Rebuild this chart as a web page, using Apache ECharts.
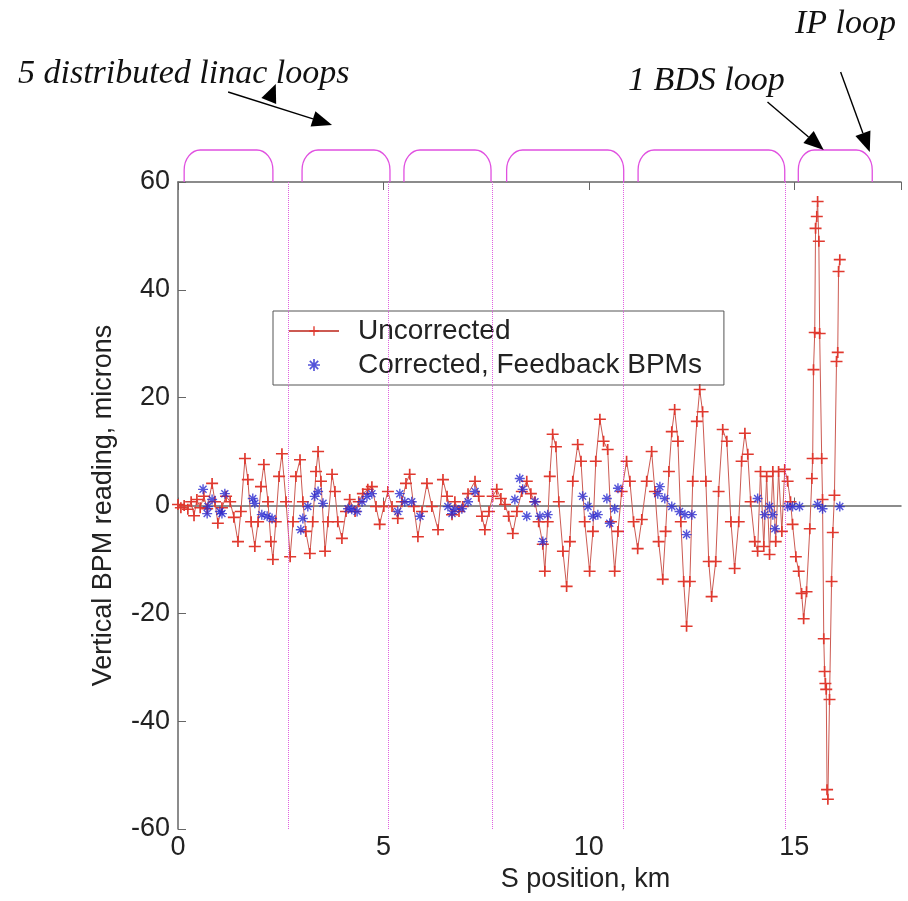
<!DOCTYPE html>
<html lang="en">
<head>
<meta charset="UTF-8">
<title>Vertical BPM reading</title>
<script src="https://cdn.jsdelivr.net/npm/echarts@6/dist/echarts.min.js"></script>
<style>html,body{margin:0;padding:0;background:#fff;}</style>
</head>
<body>
<div id="main" style="width:908px;height:901px;"></div>
<script>
// S position (km), vertical BPM reading (microns)
const uncorrected = [
  [0.00,0.2],[0.07,-0.4],[0.15,0],[0.24,-0.7],[0.32,0.7],[0.39,-1.9],[0.46,1.1],[0.54,-0.4],
  [0.63,1.7],[0.71,-0.6],[0.83,4.1],[0.90,0.7],[0.97,-3.3],[1.07,-0.4],[1.17,1.7],[1.27,0.7],
  [1.36,-2.2],[1.46,-6.7],[1.53,-1.1],[1.63,8.7],[1.70,4.8],[1.78,-3.0],[1.87,-7.6],[1.95,-3.0],
  [2.02,3.5],[2.09,7.6],[2.19,0.7],[2.26,-6.7],[2.31,-10.0],[2.38,-3.0],[2.46,5.4],[2.53,9.6],
  [2.63,0.7],[2.73,-9.5],[2.80,-3.0],[2.87,5.4],[2.97,8.5],[3.04,0.7],[3.11,-4.8],[3.21,-8.9],
  [3.28,-3.0],[3.36,6.3],[3.41,10.0],[3.48,4.5],[3.58,-8.5],[3.65,-3.0],[3.75,5.8],[3.82,2.6],
  [3.89,-3.0],[3.99,-6.1],[4.09,-1.1],[4.18,1.1],[4.31,-1.1],[4.40,0.7],[4.50,2.2],[4.62,3.0],
  [4.72,3.5],[4.82,-0.2],[4.91,-3.5],[5.01,-0.2],[5.11,2.6],[5.21,-0.2],[5.35,-2.4],[5.45,0.7],
  [5.55,4.1],[5.64,5.8],[5.74,-0.2],[5.84,-5.8],[5.94,-1.1],[6.06,4.1],[6.18,-0.2],[6.33,-4.5],
  [6.45,4.8],[6.55,1.7],[6.67,-1.7],[6.74,0.7],[6.84,-1.1],[6.93,-0.2],[7.06,2.2],[7.23,4.5],
  [7.32,1.7],[7.40,-2.0],[7.47,-4.5],[7.57,-1.1],[7.66,1.7],[7.76,3.0],[7.86,1.3],[7.96,0.2],
  [8.05,-2.0],[8.15,-5.2],[8.25,-1.1],[8.37,2.6],[8.49,4.5],[8.59,2.2],[8.69,0.7],[8.78,-3.0],
  [8.88,-7.2],[8.93,-12.2],[9.00,-3.0],[9.05,5.4],[9.12,13.2],[9.20,10.9],[9.27,0.7],[9.37,-8.5],
  [9.46,-15.0],[9.54,-6.7],[9.61,4.5],[9.73,11.3],[9.81,8.2],[9.90,-3.0],[10.02,-12.2],[10.10,-4.8],
  [10.17,8.2],[10.27,16.0],[10.36,11.9],[10.46,10.4],[10.54,-3.0],[10.63,-12.2],[10.71,-4.8],[10.80,2.6],
  [10.92,8.2],[11.00,4.5],[11.09,-3.0],[11.19,-8.0],[11.29,-2.6],[11.41,4.5],[11.53,10.0],[11.61,2.6],
  [11.70,-6.7],[11.80,-13.7],[11.87,-4.8],[11.95,6.3],[12.02,13.7],[12.09,17.8],[12.17,11.9],[12.24,-3.0],
  [12.31,-14.1],[12.38,-22.4],[12.46,-14.1],[12.53,4.5],[12.63,15.6],[12.70,21.5],[12.77,17.4],[12.85,4.5],
  [12.92,-10.4],[12.99,-16.9],[13.09,-10.4],[13.16,2.6],[13.26,14.1],[13.36,11.9],[13.46,-3.0],[13.55,-11.7],
  [13.65,-3.0],[13.72,8.2],[13.80,13.4],[13.87,9.5],[13.94,0.7],[14.04,-6.7],[14.11,-8.5],[14.18,6.3],
  [14.26,-7.6],[14.33,5.4],[14.40,-9.1],[14.48,6.3],[14.55,-6.7],[14.62,6.3],[14.70,-4.8],[14.77,6.7],
  [14.84,4.5],[14.91,0.7],[14.96,-3.5],[15.04,-9.5],[15.11,-12.2],[15.18,-16.3],[15.23,-21.0],[15.30,-16.0],
  [15.38,-4.3],[15.43,5.0],[15.45,8.7],[15.47,25.2],[15.50,32.1],[15.52,51.4],[15.55,53.6],[15.57,56.4],
  [15.60,49.0],[15.62,31.9],[15.67,8.7],[15.69,1.1],[15.72,-24.7],[15.74,-30.8],[15.76,-33.0],[15.78,-34.1],
  [15.80,-52.7],[15.82,-54.5],[15.86,-36.0],[15.91,-14.1],[15.94,-5.0],[15.98,1.9],[16.03,26.7],[16.06,28.4],
  [16.08,43.4],[16.11,45.6]
];

const corrected = [
  [0.61,3.0],[0.71,-1.5],[0.73,-0.2],[0.83,1.1],[1.02,-1.1],[1.07,-1.5],[1.14,2.2],
  [1.82,1.3],[1.87,0.4],[2.04,-1.7],[2.17,-2.0],[2.29,-2.4],
  [2.99,-4.5],[3.04,-2.4],[3.16,-0.2],[3.33,1.7],[3.41,2.6],[3.53,0.4],
  [4.14,-0.6],[4.23,-0.7],[4.36,-1.1],[4.48,0.7],[4.60,1.7],[4.72,2.2],
  [5.35,-1.1],[5.40,2.2],[5.52,0.7],[5.69,0.7],[5.89,-2.0],
  [6.57,-0.2],[6.67,-1.5],[6.74,-0.7],[6.91,-0.6],[7.06,0.7],[7.23,2.6],
  [8.20,1.1],[8.32,5.0],[8.39,3.0],[8.49,-2.0],[8.69,0.7],[8.81,-2.0],[8.88,-6.7],[9.00,-1.7],
  [9.85,1.7],[9.98,-0.2],[10.10,-2.0],[10.22,-1.7],[10.44,1.3],[10.51,-3.3],[10.63,-0.6],[10.71,3.2],
  [11.68,2.2],[11.73,3.5],[11.85,1.3],[12.02,-0.2],[12.21,-1.1],[12.34,-1.7],[12.38,-5.4],[12.51,-1.7],
  [14.11,1.3],[14.28,-1.7],[14.40,-0.2],[14.48,-1.7],[14.53,-4.3],[14.84,-0.2],[14.96,-0.2],[15.13,-0.2],
  [15.57,0.2],[15.69,-0.6],[16.11,-0.2]
];

// loop boundaries (km) and loop spans drawn above the axes
const loopEdges = [2.68, 5.13, 7.64, 10.85, 14.79];
const loops = [[0.15,2.31],[3.02,5.16],[5.50,7.62],[8.00,10.85],[11.20,14.77],[15.10,16.90]];

// annotation arrows: [x tail (km), h tail, x tip (km), h tip], h = px above the plot
const arrows = [
  [1.22,90,3.75,57],
  [2.21,81,2.38,98],
  [14.35,80,15.72,32],
  [16.13,110,16.84,30]
];

const X_MAX = 17.6;
const LOOP_H = 32;
const AXIS_COLOR = '#666';
const TXT = '#222';
const SANS = '"Liberation Sans", Arial, sans-serif';
const SERIF = '"Liberation Serif", "Times New Roman", serif';

const plusPath = 'path://M0,4.3H10V5.7H0Z M4.3,0H5.7V10H4.3Z';
const starPath = 'path://M0,4.3H10V5.7H0Z M4.3,0H5.7V10H4.3Z M1,2L2,1L9,8L8,9Z M8,1L9,2L2,9L1,8Z';

function drawLoop(params, api) {
  const a = api.coord([api.value(0), 0]);
  const b = api.coord([api.value(1), LOOP_H]);
  const x0 = a[0], x1 = b[0], yb = a[1], yt = b[1];
  const rx = 16, ry = 20;
  const d = 'M' + x0 + ',' + yb + 'L' + x0 + ',' + (yt + ry) +
    'C' + x0 + ',' + (yt + ry * 0.45) + ' ' + (x0 + rx * 0.45) + ',' + yt + ' ' + (x0 + rx) + ',' + yt +
    'L' + (x1 - rx) + ',' + yt +
    'C' + (x1 - rx * 0.45) + ',' + yt + ' ' + x1 + ',' + (yt + ry * 0.45) + ' ' + x1 + ',' + (yt + ry) +
    'L' + x1 + ',' + yb;
  return {
    type: 'path',
    shape: { pathData: d },
    style: { fill: 'none', stroke: '#e050e0', lineWidth: 1.3 }
  };
}

function drawArrow(params, api) {
  const p = api.coord([api.value(0), api.value(1)]);
  const q = api.coord([api.value(2), api.value(3)]);
  const dx = q[0] - p[0], dy = q[1] - p[1];
  const len = Math.hypot(dx, dy);
  const ux = dx / len, uy = dy / len;
  const hl = Math.min(20, len), hw = 8;
  const bx = q[0] - ux * hl, by = q[1] - uy * hl;
  const children = [];
  if (len > hl + 1) {
    children.push({ type: 'line', shape: { x1: p[0], y1: p[1], x2: bx, y2: by },
      style: { stroke: '#000', lineWidth: 1.4 } });
  }
  children.push({ type: 'polygon',
    shape: { points: [[q[0], q[1]], [bx - uy * hw, by + ux * hw], [bx + uy * hw, by - ux * hw]] },
    style: { fill: '#000' } });
  return { type: 'group', children: children };
}

const chart = echarts.init(document.getElementById('main'));

const option = {
  animation: false,
  backgroundColor: '#fff',
  grid: [
    { left: 178, right: 7, top: 182, bottom: 72 },
    { left: 178, right: 7, top: 0, height: 182 }
  ],
  legend: {
    left: 273, top: 311,
    orient: 'vertical',
    backgroundColor: 'transparent',
    borderColor: '#555', borderWidth: 1,
    padding: [6, 22, 6, 15],
    itemWidth: 50, itemHeight: 12, itemGap: 6,
    textStyle: { fontFamily: SANS, fontSize: 28, color: TXT, padding: [0, 0, 0, 14] },
    data: ['Uncorrected', 'Corrected, Feedback BPMs']
  },
  xAxis: [
    {
      gridIndex: 0, type: 'value', min: 0, max: X_MAX, interval: 5,
      name: 'S position, km', nameLocation: 'middle', nameGap: 36,
      nameTextStyle: { fontFamily: SANS, fontSize: 27, color: TXT, padding: [0, 0, 0, 92] },
      axisLine: { show: true, lineStyle: { color: AXIS_COLOR, width: 1.5 } },
      axisTick: { show: true, inside: true, length: 8, lineStyle: { color: AXIS_COLOR } },
      axisLabel: { fontFamily: SANS, fontSize: 27, color: TXT, margin: 5, showMaxLabel: false,
        formatter: v => (v % 5 === 0 ? String(v) : '') },
      splitLine: { show: false }
    },
    {
      gridIndex: 0, type: 'value', position: 'top', min: 0, max: X_MAX, interval: 5,
      axisLine: { show: true, lineStyle: { color: AXIS_COLOR, width: 1.5 } },
      axisTick: { show: true, inside: true, length: 8, lineStyle: { color: AXIS_COLOR } },
      axisLabel: { show: false },
      splitLine: { show: false }
    },
    { gridIndex: 1, type: 'value', min: 0, max: X_MAX, show: false }
  ],
  yAxis: [
    {
      gridIndex: 0, type: 'value', min: -60, max: 60, interval: 20,
      name: 'Vertical BPM reading, microns', nameLocation: 'middle', nameGap: 61,
      nameTextStyle: { fontFamily: SANS, fontSize: 27, color: TXT },
      axisLine: { show: true, lineStyle: { color: AXIS_COLOR, width: 1.5 } },
      axisTick: { show: true, inside: true, length: 8, lineStyle: { color: AXIS_COLOR } },
      axisLabel: { fontFamily: SANS, fontSize: 27, color: TXT, margin: 8 },
      splitLine: { show: false }
    },
    { gridIndex: 1, type: 'value', min: 0, max: 182, show: false }
  ],
  series: [
    {
      name: 'Uncorrected',
      type: 'line',
      xAxisIndex: 0, yAxisIndex: 0,
      data: uncorrected,
      symbol: plusPath,
      symbolSize: [12, 11],
      showAllSymbol: true,
      itemStyle: { color: '#e0392f' },
      lineStyle: { color: '#cc5a52', width: 1 },
      z: 3,
      markLine: {
        silent: true,
        symbol: ['none', 'none'],
        label: { show: false },
        lineStyle: { color: '#e060e0', type: 'dotted', width: 1 },
        data: loopEdges.map(v => ({ xAxis: v }))
      }
    },
    {
      name: 'Corrected, Feedback BPMs',
      type: 'scatter',
      xAxisIndex: 0, yAxisIndex: 0,
      data: corrected,
      symbol: starPath,
      symbolSize: 10,
      itemStyle: { color: '#2b2bd0' },
      z: 4
    },
    {
      type: 'custom',
      xAxisIndex: 2, yAxisIndex: 1,
      silent: true,
      clip: false,
      renderItem: drawLoop,
      encode: { x: [0, 1] },
      data: loops
    },
    {
      type: 'custom',
      xAxisIndex: 2, yAxisIndex: 1,
      silent: true,
      clip: false,
      renderItem: drawArrow,
      encode: { x: [0, 2], y: [1, 3] },
      data: arrows
    }
  ],
  graphic: [
    { type: 'text', left: 18, top: 57,
      style: { text: '5 distributed linac loops', font: 'italic 34px ' + SERIF, fill: '#111' } },
    { type: 'text', left: 628, top: 64,
      style: { text: '1 BDS loop', font: 'italic 34px ' + SERIF, fill: '#111' } },
    { type: 'text', left: 795, top: 7,
      style: { text: 'IP loop', font: 'italic 34px ' + SERIF, fill: '#111' } }
  ]
};

chart.setOption(option);
</script>
</body>
</html>
